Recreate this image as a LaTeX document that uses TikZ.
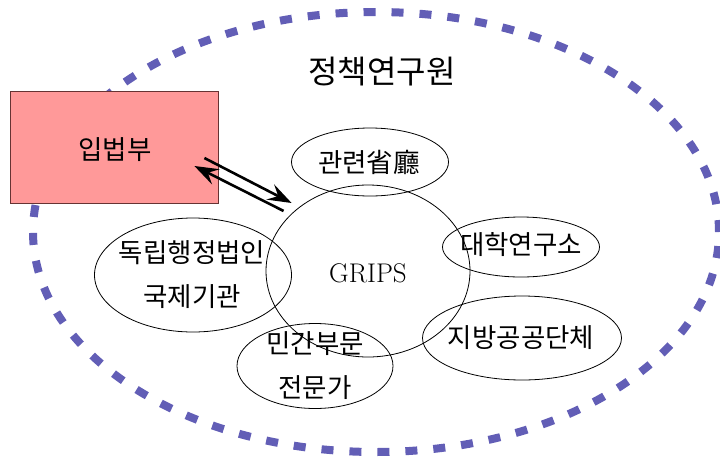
\documentclass[tikz,border=0pt]{standalone}
\usepackage{fontspec}
\newfontfamily\krfont{Noto Sans CJK KR}
\usetikzlibrary{shapes.geometric,arrows.meta,calc}
\definecolor{policyblue}{RGB}{98,94,182}
\definecolor{legpink}{RGB}{255,153,153}
\definecolor{legborder}{RGB}{102,51,51}

\begin{document}
\begin{tikzpicture}[x=1pt,y=-1pt,
    org/.style={draw,ellipse,line width=0.8pt,inner sep=0pt},
    txt/.style={font=\krfont\fontsize{26.5}{44}\selectfont,align=center,inner sep=0pt},
    conn/.style={line width=2.6pt,-{Stealth[length=24pt,width=17pt,inset=9pt]}}]

    \useasboundingbox (0,0) rectangle (720,461);

    \draw[policyblue,line width=8pt,dash pattern=on 12pt off 16pt] (376,232) ellipse [x radius=343pt,y radius=220pt];
    \node[txt,font=\krfont\fontsize{32}{34}\selectfont] (title) at (382,72) {정책연구원};

    \node[draw=legborder,fill=legpink,line width=0.8pt,minimum width=208pt,minimum height=112pt] (leg) at (114,147) {};
    \node[txt] (leg-t) at (115,150) {입법부};

    \node[org,minimum width=204pt,minimum height=172pt] (grips) at (368,271) {};
    \node[font=\fontsize{27}{29}\selectfont] (grips-t) at (368,273) {GRIPS};

    \node[org,minimum width=157pt,minimum height=68pt] (gov) at (370,162) {};
    \node[txt] (gov-t) at (369,162) {관련省廳};

    \node[org,minimum width=157pt,minimum height=60pt] (univ) at (521,247) {};
    \node[txt] (univ-t) at (521,245) {대학연구소};

    \node[org,minimum width=199pt,minimum height=84pt] (local) at (522,338) {};
    \node[txt] (local-t) at (521,338) {지방공공단체};

    \node[org,minimum width=197pt,minimum height=114pt] (agency) at (193,275) {};
    \node[txt] (agency-t) at (192,275) {독립행정법인\\국제기관};

    \node[org,minimum width=156pt,minimum height=85pt] (expert) at (315,366) {};
    \node[txt] (expert-t) at (315,366) {민간부문\\전문가};

    \draw[conn] ($(leg.east)+(-14,11)$) -- ($(grips.west)+(26,-68)$);
    \draw[conn] ($(grips.west)+(18,-60)$) -- ($(leg.east)+(-24,19)$);
\end{tikzpicture}
\end{document}
